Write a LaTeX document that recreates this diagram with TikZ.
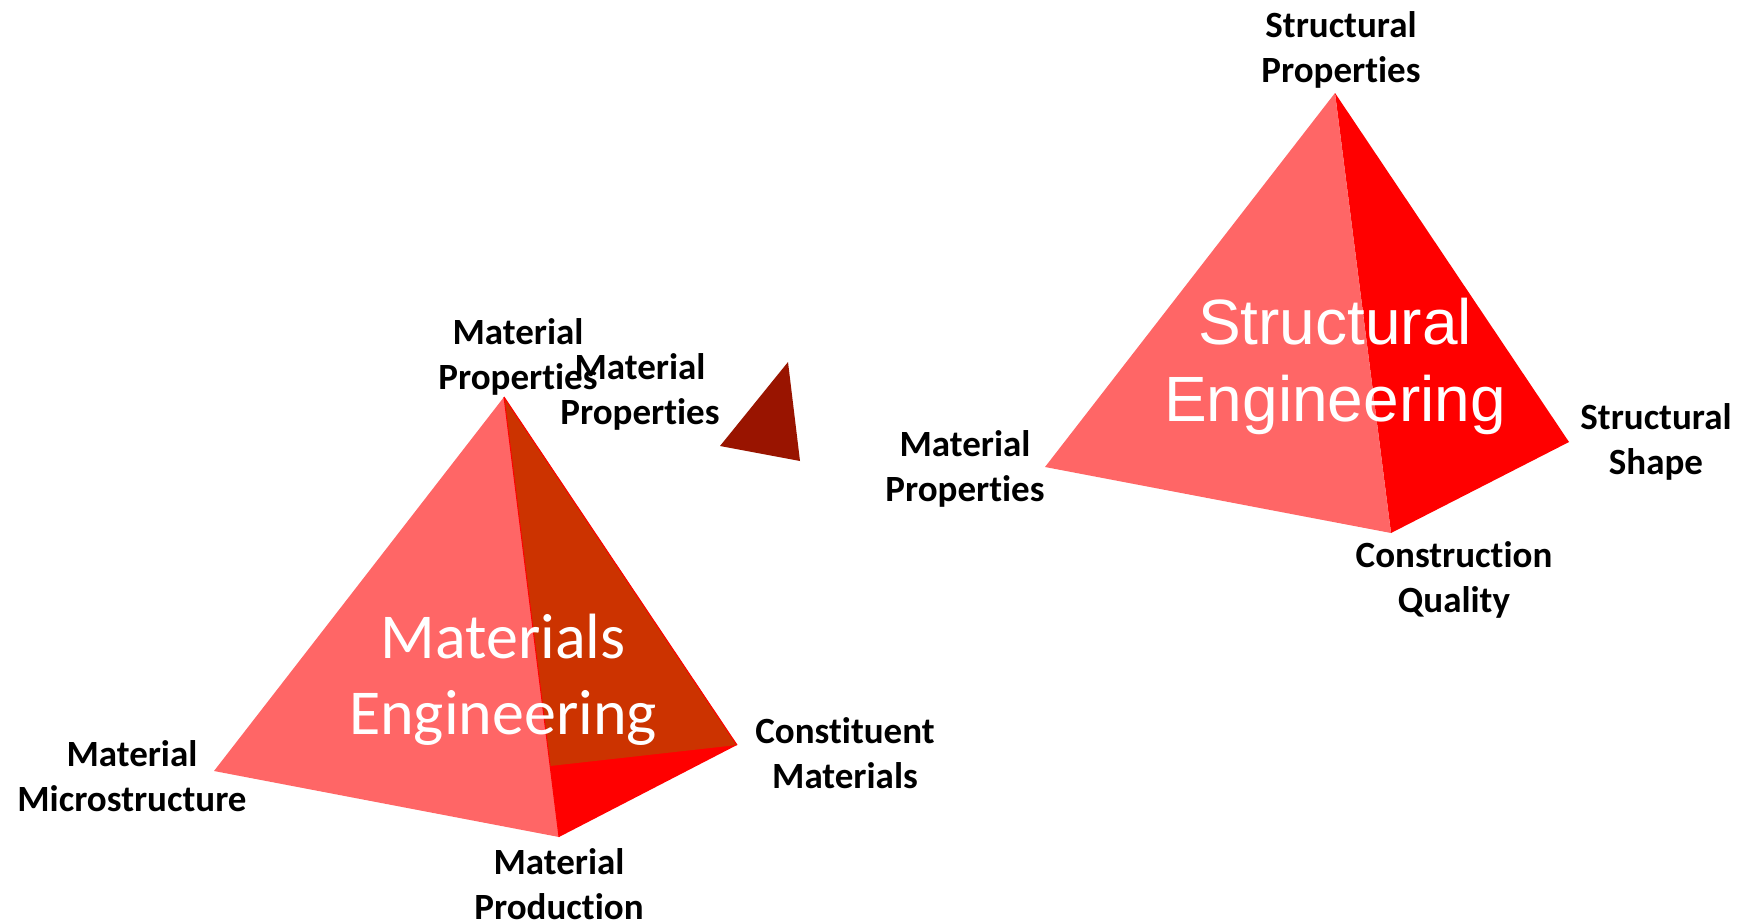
\documentclass[tikz,border=0pt]{standalone}
\usepackage{xcolor}
\usepackage{fontspec}
\setmainfont{Carlito}[Ligatures=NoCommon]
\newfontfamily\titlefont{Liberation Sans}
\definecolor{facelight}{HTML}{FF6666}
\definecolor{facered}{HTML}{FF0000}
\definecolor{faceorange}{HTML}{CC3300}
\definecolor{facedark}{HTML}{991400}
\tikzset{
    cornerlabel/.style={align=center, text=black, inner sep=0pt, font=\fontsize{37}{45}\selectfont\bfseries},
    bigtitle/.style={align=center, text=white, inner sep=0pt, font=\fontsize{64}{76}\selectfont},
    bigtitlesans/.style={align=center, text=white, inner sep=0pt, font=\fontsize{64}{77}\selectfont\titlefont}
}
\begin{document}
\begin{tikzpicture}[x=1pt,y=-1pt]
    \useasboundingbox (0,0) rectangle (1754,921);
    % materials pyramid
    \coordinate (mtop) at (504,397);
    \coordinate (mleft) at (214,771);
    \coordinate (mbottom) at (559,837);
    \coordinate (mright) at (737,745);
    \coordinate (minner) at (550,766);
    \fill[facered] (mtop) -- (mright) -- (mbottom) -- cycle;
    \fill[faceorange] (mtop) -- (mright) -- (minner) -- cycle;
    \draw[facered, line width=1pt] (mtop) -- (mright);
    \fill[facelight] (mtop) -- (mleft) -- (mbottom) -- cycle;
    \draw[facered, line width=1pt] (mtop) -- (mbottom);
    % structural pyramid
    \coordinate (stop) at (1335,93);
    \coordinate (sleft) at (1045,467);
    \coordinate (sbottom) at (1391,533);
    \coordinate (sright) at (1569,442);
    \fill[facered] (stop) -- (sright) -- (sbottom) -- cycle;
    \fill[facelight] (stop) -- (sleft) -- (sbottom) -- cycle;
    % small triangle
    \coordinate (ttop) at (788,362);
    \coordinate (tleft) at (720,446);
    \coordinate (tright) at (800,461);
    \fill[facedark] (ttop) -- (tleft) -- (tright) -- cycle;
    % labels
    \node[bigtitle] (mtitle) at (503,680) {Materials\\Engineering};
    \node[bigtitlesans] (stitle) at (1335,366) {Structural\\Engineering};
    \node[cornerlabel] (mprop) at (518,357) {Material\\Properties};
    \node[cornerlabel] (tprop) at (640,392) {Material\\Properties};
    \node[cornerlabel] (mmicro) at (132,776) {Material\\Microstructure};
    \node[cornerlabel] (mprod) at (559,884) {Material\\Production};
    \node[cornerlabel] (mconst) at (845,753) {Constituent\\Materials};
    \node[cornerlabel] (sprop) at (1341,50) {Structural\\Properties};
    \node[cornerlabel] (smat) at (965,469) {Material\\Properties};
    \node[cornerlabel] (sshape) at (1656,442) {Structural\\Shape};
    \node[cornerlabel] (squal) at (1454,580) {Construction\\Quality};
\end{tikzpicture}
\end{document}
